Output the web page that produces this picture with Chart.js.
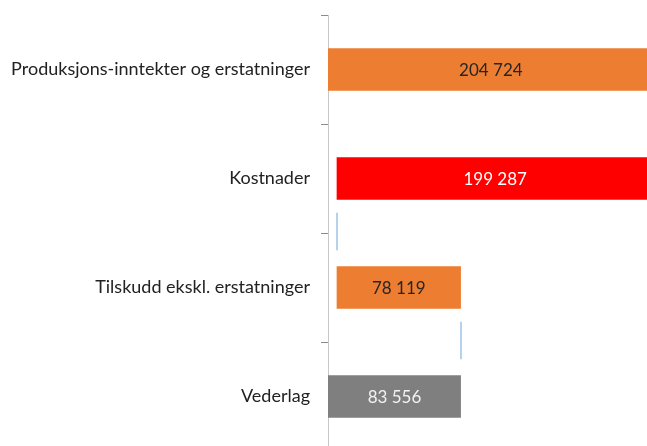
<!DOCTYPE html>
<html>
<head>
<meta charset="utf-8">
<script src="https://cdn.jsdelivr.net/npm/chart.js@4/dist/chart.umd.min.js"></script>
<style>
    html, body { margin: 0; padding: 0; background: #fff; overflow: hidden; }
    #frame { position: relative; width: 647px; height: 446px; overflow: hidden; }
    #frame canvas { position: absolute; left: 0; top: 0; }
</style>
</head>
<body>
<div id="frame">
    <canvas id="waterfall" width="678" height="451"></canvas>
</div>
<script>
// Waterfall: hver post endrer saldoen, siste stolpe er totalen
const categories = [
    'Produksjons-inntekter og erstatninger',
    'Kostnader',
    'Tilskudd ekskl. erstatninger',
    'Vederlag'
];
const amounts = [204724, -199287, 78119, 83556];
const isTotal = [false, false, false, true];

const barColors = ['#ED7D31', '#FF0000', '#ED7D31', '#7F7F7F'];
const labelColors = ['#262626', '#ffffff', '#262626', '#f2f2f2'];

// flytende stolper [start, slutt]
const ranges = [];
const levels = [];
let running = 0;
for (let i = 0; i < amounts.length; i++) {
    if (isTotal[i]) {
        ranges.push([0, amounts[i]]);
        running = amounts[i];
    } else {
        ranges.push([running, running + amounts[i]]);
        running += amounts[i];
    }
    levels.push(running);
}

function formatNumber(v) {
    return String(Math.abs(v)).replace(/\B(?=(\d{3})+(?!\d))/g, ' ');
}

const connectorPlugin = {
    id: 'connectors',
    afterDatasetsDraw(chart) {
        const ctx = chart.ctx;
        const meta = chart.getDatasetMeta(0);
        const x = chart.scales.x;
        ctx.save();
        ctx.strokeStyle = '#9dc3e6';
        ctx.lineWidth = 1.5;
        for (let i = 0; i < meta.data.length - 1; i++) {
            const a = meta.data[i];
            const b = meta.data[i + 1];
            const px = Math.round(x.getPixelForValue(levels[i]));
            ctx.beginPath();
            ctx.moveTo(px, a.y + a.height / 2 + 13);
            ctx.lineTo(px, b.y - b.height / 2 - 16);
            ctx.stroke();
        }
        ctx.restore();
    }
};

const valueLabelPlugin = {
    id: 'valueLabels',
    afterDatasetsDraw(chart) {
        const ctx = chart.ctx;
        const meta = chart.getDatasetMeta(0);
        ctx.save();
        ctx.font = '17px Lato';
        ctx.textAlign = 'center';
        ctx.textBaseline = 'middle';
        meta.data.forEach((bar, i) => {
            ctx.fillStyle = labelColors[i];
            ctx.fillText(formatNumber(amounts[i]), (bar.x + bar.base) / 2, bar.y + 1);
        });
        ctx.restore();
    }
};

const ctx = document.getElementById('waterfall').getContext('2d');

new Chart(ctx, {
    type: 'bar',
    data: {
        labels: categories,
        datasets: [{
            data: ranges,
            backgroundColor: barColors,
            borderWidth: 0,
            categoryPercentage: 1,
            barPercentage: 0.39
        }]
    },
    options: {
        indexAxis: 'y',
        responsive: false,
        animation: false,
        devicePixelRatio: 1,
        layout: { padding: { top: 15, right: 0, bottom: 0, left: 0 } },
        plugins: {
            legend: { display: false },
            tooltip: { enabled: false }
        },
        scales: {
            x: {
                display: false,
                min: 0,
                max: 220000
            },
            y: {
                afterFit(scale) {
                    scale.width = 328;
                    // labels ligger midt i kategoriene, ingen ekstra luft oppe/nede
                    scale.paddingTop = 0;
                    scale.paddingBottom = 0;
                },
                grid: {
                    drawOnChartArea: false,
                    drawTicks: true,
                    tickLength: 7,
                    color: '#8c8c8c'
                },
                border: { color: '#c8c8c8', width: 1 },
                ticks: {
                    padding: 11,
                    color: '#222222',
                    font: { family: 'Lato', size: 18 }
                }
            }
        }
    },
    plugins: [connectorPlugin, valueLabelPlugin]
});
</script>
</body>
</html>
